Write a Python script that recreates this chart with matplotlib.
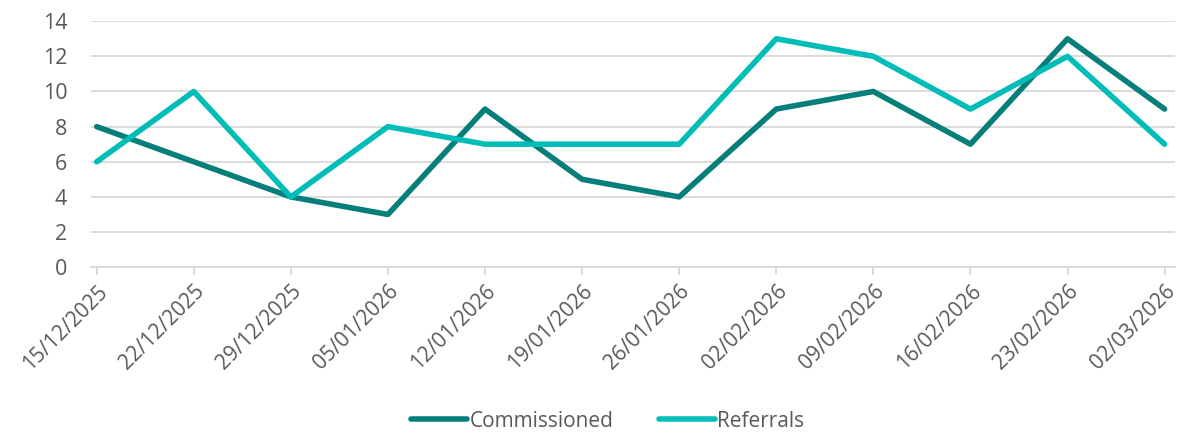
import matplotlib
matplotlib.use('Agg')
import matplotlib.pyplot as plt

plt.rcParams['font.family'] = ['Open Sans', 'DejaVu Sans']

dates = ['15/12/2025', '22/12/2025', '29/12/2025', '05/01/2026', '12/01/2026', '19/01/2026',
         '26/01/2026', '02/02/2026', '09/02/2026', '16/02/2026', '23/02/2026', '02/03/2026']
commissioned = [8, 6, 4, 3, 9, 5, 4, 9, 10, 7, 13, 9]
referrals = [6, 10, 4, 8, 7, 7, 7, 13, 12, 9, 12, 7]

fig = plt.figure(figsize=(11.8, 4.33), dpi=100)
ax = fig.add_axes([0.077, 0.383, 0.919, 0.568])

x = list(range(len(dates)))
ax.plot(x, commissioned, color='#067F7B', linewidth=4, label='Commissioned', solid_capstyle='round')
ax.plot(x, referrals, color='#00BDB8', linewidth=4, label='Referrals', solid_capstyle='round')

ax.set_ylim(0, 14)
ax.set_yticks(range(0, 15, 2))
ax.set_xlim(-0.06, 11.11)
ax.set_xticks(x)
ax.set_xticklabels(dates, rotation=45, ha='right', rotation_mode='anchor')

ax.grid(axis='y', color='#D9D9D9', linewidth=1.3)
ax.set_axisbelow(True)
for s in ['top', 'right', 'left']:
    ax.spines[s].set_visible(False)
ax.spines['bottom'].set_color('#D9D9D9')
ax.spines['bottom'].set_linewidth(1.3)
ax.tick_params(axis='y', length=0, labelsize=15.5, labelcolor='#595959', pad=17)
ax.tick_params(axis='x', length=6, color='#D9D9D9', width=1.3, labelsize=15, labelcolor='#595959', pad=4)

fig.legend(loc='lower center', ncol=2, bbox_to_anchor=(0.515, -0.04), frameon=False,
           fontsize=15, labelcolor='#595959', handlelength=2.7, handletextpad=0.1, columnspacing=2.2)

fig.savefig('out.png', dpi=100)
